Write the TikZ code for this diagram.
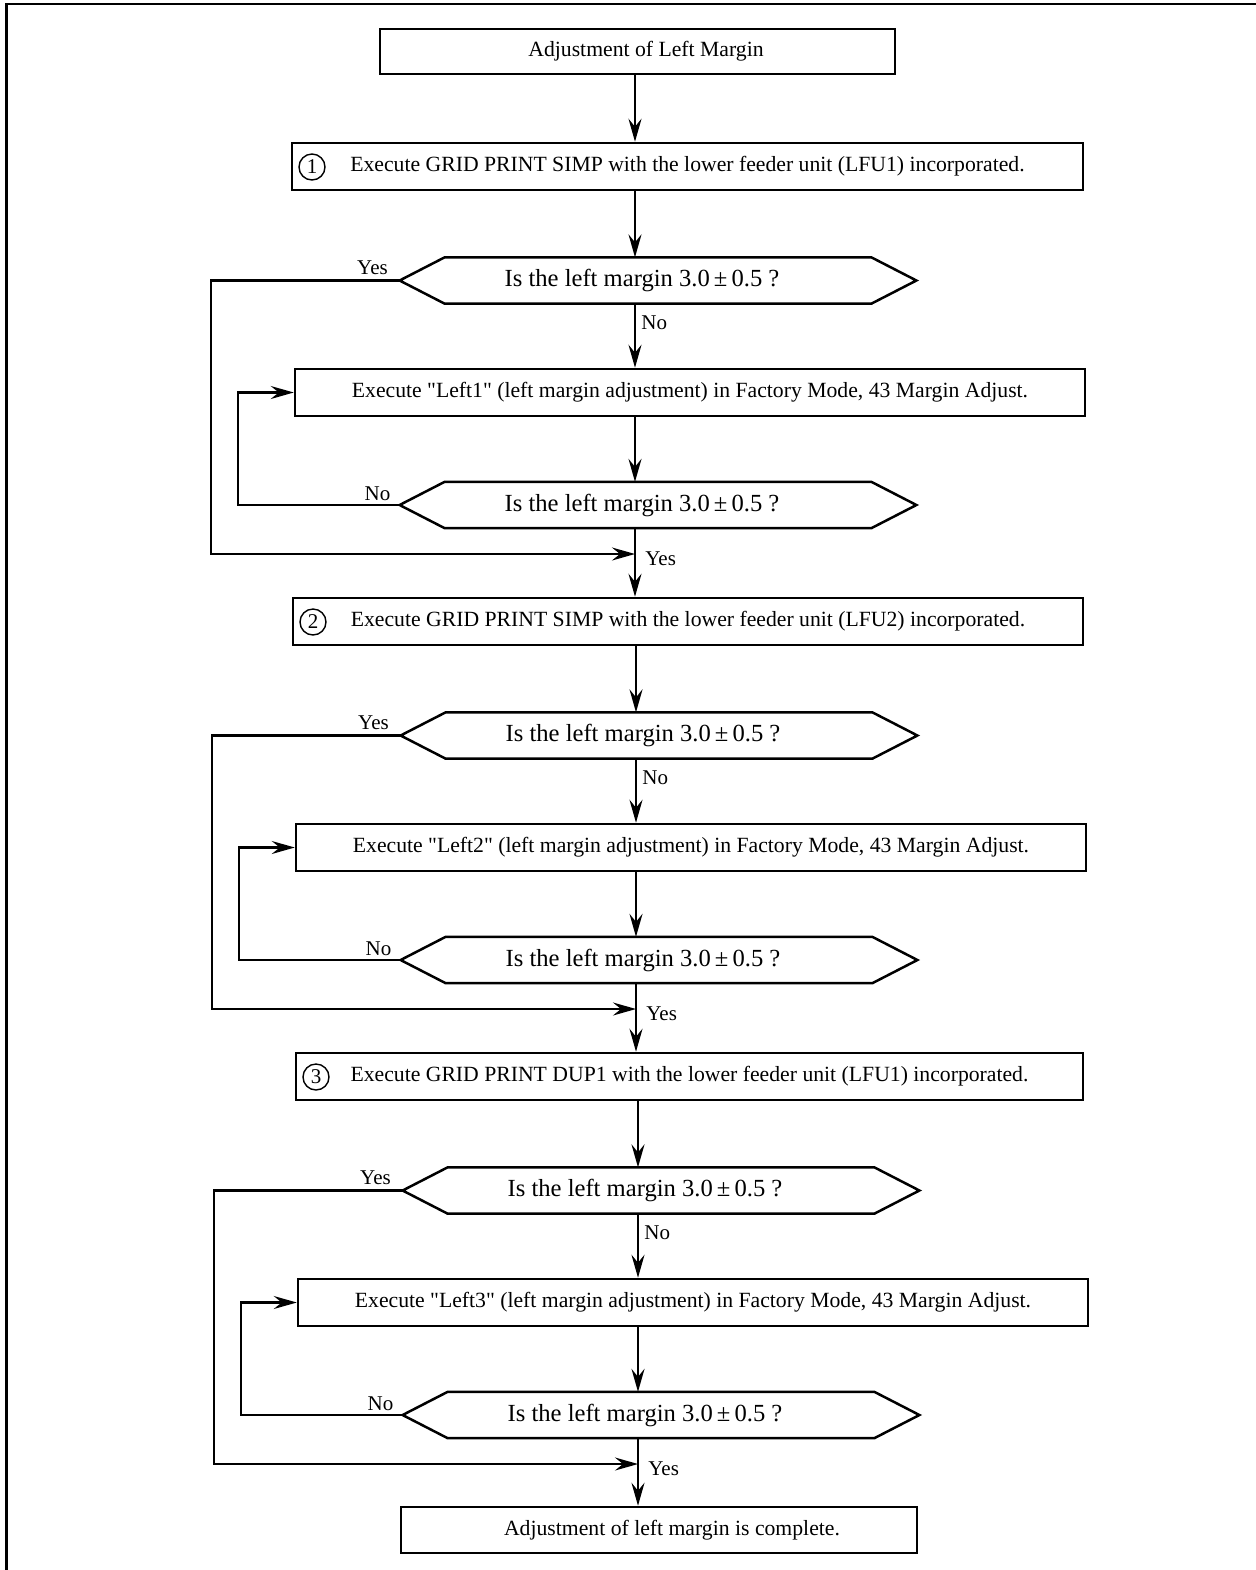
\documentclass[tikz,border=0pt]{standalone}
\usepackage{fontspec}
\setmainfont{Liberation Serif}[Ligatures=TeXOff]
\usetikzlibrary{arrows.meta}
\tikzset{
  box/.style={draw,line width=1.25pt,minimum height=23.5pt,inner sep=0pt,font=\fontsize{10.85}{13}\selectfont},
  hexbox/.style={inner sep=0pt,minimum width=213pt,minimum height=22.75pt},
  ask/.style={inner sep=0pt,font=\fontsize{12.3}{14}\selectfont},
  lab/.style={inner sep=0pt,font=\fontsize{10.5}{12}\selectfont},
  numc/.style={draw,circle,line width=0.7pt,minimum size=13pt,inner sep=0pt,font=\fontsize{10.5}{12}\selectfont},
  flow/.style={line width=1.15pt,-{Stealth[length=11.5pt,width=6.5pt,inset=4pt]}},
  link/.style={line width=1.25pt,line join=miter},
}

\begin{document}
\begin{tikzpicture}[x=0.5pt,y=-0.5pt]
\useasboundingbox (0,0) rectangle (1256,1570);
% page frame (top and left edge only)
\draw[line width=1.1pt] (6.5,1570) -- (6.5,4) -- (1256,4);
% start and end
\node[box,minimum width=257.5pt,minimum height=22.5pt] (start) at (637.5,51.5) {\hspace*{8.5pt}Adjustment of Left Margin};
\node[box,minimum width=258pt,minimum height=23pt] (done) at (659,1530) {\hspace*{13pt}Adjustment of left margin is complete.};
% three passes
\foreach \s/\dx/\bl/\grid/\lfu in {0/0/292/SIMP/LFU1,1/1/293/SIMP/LFU2,2/3/296/DUP1/LFU1} {
  \pgfmathsetmacro\oy{455*\s}
  \pgfmathsetmacro\bw{(1083-\bl)/2}
  \pgfmathtruncatemacro\idx{\s+1}
  \coordinate (sp\s) at ({635+\dx},0);
  % grid print step
  \node[box,minimum width=\bw pt] (b\s) at ({(1083+\bl)/2},{166.5+\oy}) {Execute GRID PRINT \grid{} with the lower feeder unit (\lfu) incorporated.};
  \node[numc] (c\s) at ({\bl+20},{167+\oy}) {\idx};
  % first check
  \node[hexbox] (d\s) at ({658+\dx},{280.5+\oy}) {};
  \draw[link] (d\s.north west) -- (d\s.north east) -- ([xshift=22.5pt]d\s.east) -- (d\s.south east) -- (d\s.south west) -- ([xshift=-22.5pt]d\s.west) -- cycle;
  \coordinate (dl\s) at ([xshift=-22.5pt]d\s.west);
  \node[ask] (q\s) at ({642+\dx},{280.5+\oy}) {Is the left margin 3.0\,±\,0.5 ?};
  % adjustment step
  \node[box,minimum width=395pt] (a\s) at ({690+\dx},{392.5+\oy}) {Execute "Left\idx" (left margin adjustment) in Factory Mode, 43 Margin Adjust.};
  % second check
  \node[hexbox] (e\s) at ({658+\dx},{505+\oy}) {};
  \draw[link] (e\s.north west) -- (e\s.north east) -- ([xshift=22.5pt]e\s.east) -- (e\s.south east) -- (e\s.south west) -- ([xshift=-22.5pt]e\s.west) -- cycle;
  \coordinate (el\s) at ([xshift=-22.5pt]e\s.west);
  \node[ask] (r\s) at ({642+\dx},{505+\oy}) {Is the left margin 3.0\,±\,0.5 ?};
  \coordinate (j\s) at ({635+\dx},{554+\oy});
  % connectors
  \draw[flow] (b\s.south -| sp\s) -- (d\s.north -| sp\s);
  \draw[flow] (d\s.south -| sp\s) -- (a\s.north -| sp\s);
  \draw[flow] (a\s.south -| sp\s) -- (e\s.north -| sp\s);
  \draw[flow] (el\s) -- ({237.7+\dx},{505+\oy}) |- (a\s.west);
  \draw[flow] (dl\s) -- ({211+\dx},{280.5+\oy}) |- (j\s);
  % labels
  \node[lab] (y\s) at ({372.5+\dx},{268+\oy}) {Yes};
  \node[lab,anchor=west] (n\s) at ({641+\dx},{323+\oy}) {No};
  \node[lab] (m\s) at ({377.5+\dx},{494+\oy}) {No};
  \node[lab,anchor=west] (z\s) at ({645+\dx},{559+\oy}) {Yes};
}
\draw[flow] (start.south -| sp0) -- (b0.north -| sp0);
\draw[flow] (e0.south -| sp0) -- (b1.north -| sp0);
\draw[flow] (e1.south -| sp1) -- (b2.north -| sp1);
\draw[flow] (e2.south -| sp2) -- (done.north -| sp2);
\end{tikzpicture}
\end{document}
